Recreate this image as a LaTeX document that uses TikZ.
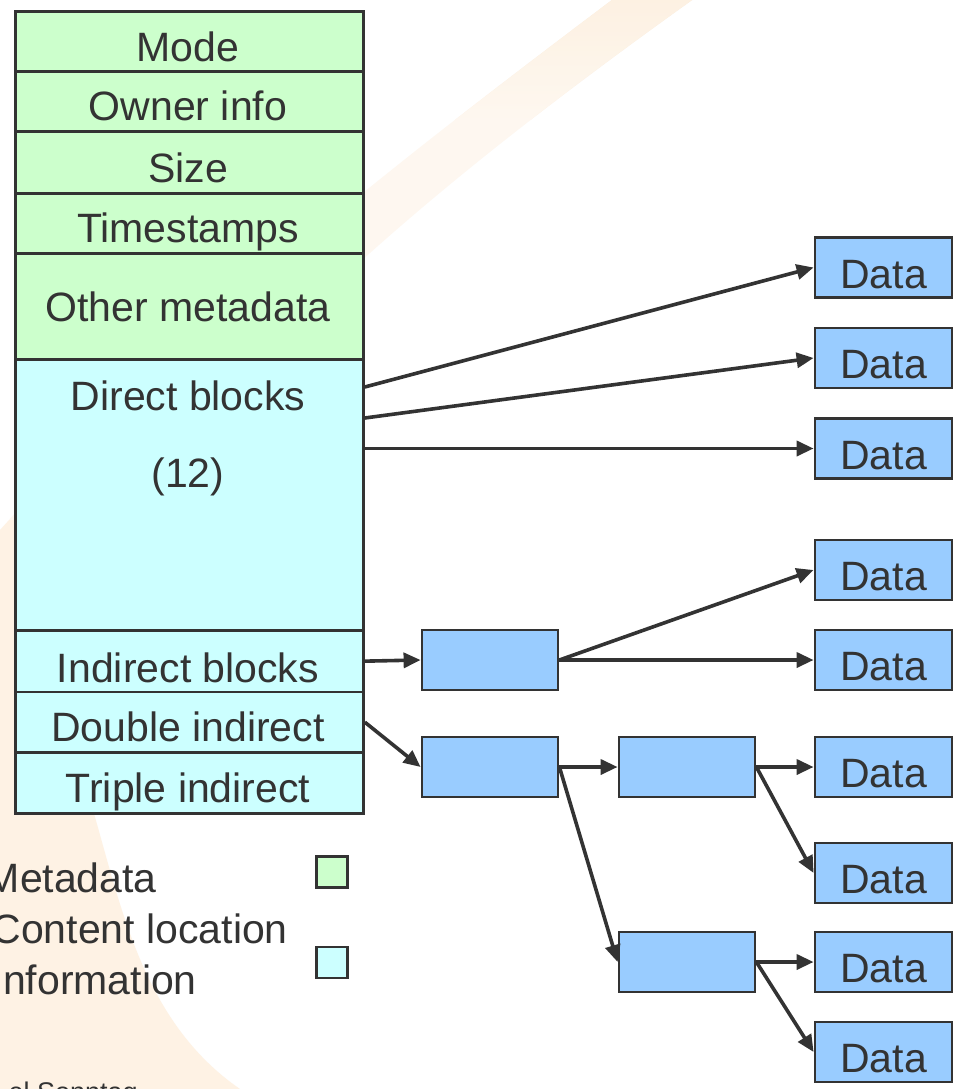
\documentclass[tikz,border=0pt]{standalone}
\usepackage{fontspec}
\setmainfont{Liberation Sans}
\usetikzlibrary{arrows.meta}
\definecolor{ink}{HTML}{333333}
\definecolor{metag}{HTML}{CCFFCC}
\definecolor{contc}{HTML}{CCFFFF}
\definecolor{blk}{HTML}{99CCFF}
\definecolor{peach}{HTML}{FEF2E4}
\definecolor{peachdeep}{HTML}{FCE6CB}
\newcommand\swooshpath{(612,0) -- (692,0) .. controls (300,280) and (0,560) .. (90,800) .. controls (120,900) and (140,1020) .. (240,1089) -- (0,1089) -- (0,530) .. controls (180,330) and (400,160) .. (612,0) -- cycle}
\begin{document}
\begin{tikzpicture}[x=1pt,y=-1pt,
  cell/.style={draw=ink, line width=2.8pt, inner sep=0pt, anchor=north west, minimum width=348pt},
  gcell/.style={cell, fill=metag},
  ccell/.style={cell, fill=contc},
  blkbox/.style={draw=ink, line width=2.8pt, fill=blk, inner sep=0pt, minimum width=137pt, minimum height=60pt, text=ink, font=\fontsize{41}{49}\selectfont, text height=41pt, text depth=0pt},
  lbl/.style={text=ink, font=\fontsize{41}{49}\selectfont, anchor=base, inner sep=0pt},
  leg/.style={lbl, anchor=base east},
  swatch/.style={draw=ink, line width=2.8pt, inner sep=0pt, minimum width=31pt, minimum height=31pt},
  conn/.style={draw=ink, line width=3.6pt, -{Triangle[length=17pt,width=15pt]}}
]
\path[use as bounding box] (0,0) rectangle (961,1089);
\clip (0,0) rectangle (961,1089);
\fill[white] (0,0) rectangle (961,1089);
% background swoosh
\fill[peach] \swooshpath;
\begin{scope}
  \clip \swooshpath;
  \shade[top color=peachdeep, bottom color=peach] (450,0) rectangle (720,120);
  \fill[white, opacity=0.45] (0,0) rectangle (961,520);
\end{scope}

% inode table
\node[gcell, minimum height=60pt]  (mode)  at (14,10)    {};
\node[gcell, minimum height=60pt]  (owner) at (14,70)    {};
\node[gcell, minimum height=62pt]  (size)  at (14,130)   {};
\node[gcell, minimum height=60pt]  (times) at (14,192)   {};
\node[gcell, minimum height=106pt] (other) at (14,252)   {};
\node[ccell, minimum height=271pt] (direct) at (14,358)  {};
\node[ccell, minimum height=61.5pt] (indir) at (14,629)  {};
\node[ccell, minimum height=60.5pt] (dbl)   at (14,690.5) {};
\node[ccell, minimum height=61pt]  (trip)  at (14,751)   {};

\node[lbl] (tmode)  at (188,62)  {Mode};
\node[lbl] (towner) at (188,121) {Owner info};
\node[lbl] (tsize)  at (188,182) {Size};
\node[lbl] (ttimes) at (188,242) {Timestamps};
\node[lbl] (tother) at (188,321) {Other metadata};
\node[lbl] (tdir)   at (188,410) {Direct blocks};
\node[lbl] (tdirn)  at (188,487) {(12)};
\node[lbl] (tind)   at (188,682) {Indirect blocks};
\node[lbl] (tdbl)   at (188,741) {Double indirect};
\node[lbl] (ttrip)  at (188,802) {Triple indirect};

% blocks
\node[blkbox] (data1) at (883.5,267.5) {Data};
\node[blkbox] (data2) at (883.5,358)   {Data};
\node[blkbox] (data3) at (883.5,448.5) {Data};
\node[blkbox] (data4) at (883.5,570)   {Data};
\node[blkbox] (data5) at (883.5,660)   {Data};
\node[blkbox] (data6) at (883.5,767)   {Data};
\node[blkbox] (data7) at (883.5,873)   {Data};
\node[blkbox] (data8) at (883.5,962)   {Data};
\node[blkbox] (data9) at (883.5,1052)  {Data};
\node[blkbox, minimum width=136pt] (ib)  at (490,660) {};
\node[blkbox, minimum width=136pt] (l1)  at (490,767) {};
\node[blkbox, minimum width=136pt] (l2a) at (687,767) {};
\node[blkbox, minimum width=136pt] (l2b) at (687,962) {};

% connectors
\coordinate (d1) at ([yshift=-29pt]direct.north east);
\coordinate (d2) at ([yshift=-60pt]direct.north east);
\coordinate (d3) at (direct.east |- data3.west);
\draw[conn] (d1) -- (data1.west);
\draw[conn] (d2) -- (data2.west);
\draw[conn] (d3) -- (data3.west);
\draw[conn] (indir.east) -- (ib.west);
\draw[conn] (ib.east) -- (data4.west);
\draw[conn] (ib.east) -- (data5.west);
\draw[conn] (dbl.east) -- (l1.west);
\draw[conn] (l1.east) -- (l2a.west);
\draw[conn] (l1.east) -- (l2b.west);
\draw[conn] (l2a.east) -- (data6.west);
\draw[conn] (l2a.east) -- (data7.west);
\draw[conn] (l2b.east) -- (data8.west);
\draw[conn] (l2b.east) -- (data9.west);

% legend
\node[leg] (lmeta) at (157,892) {Metadata};
\node[leg] (lcont) at (288,943) {Content location};
\node[leg] (linfo) at (197,994) {Information};
\node[swatch, fill=metag] (sw1) at (332,872) {};
\node[swatch, fill=contc] (sw2) at (332,962.5) {};

% footer
\node[text=ink, font=\fontsize{27}{32}\selectfont, anchor=base east, inner sep=0pt] (foot) at (138,1101) {el Sonntag};
\end{tikzpicture}
\end{document}
